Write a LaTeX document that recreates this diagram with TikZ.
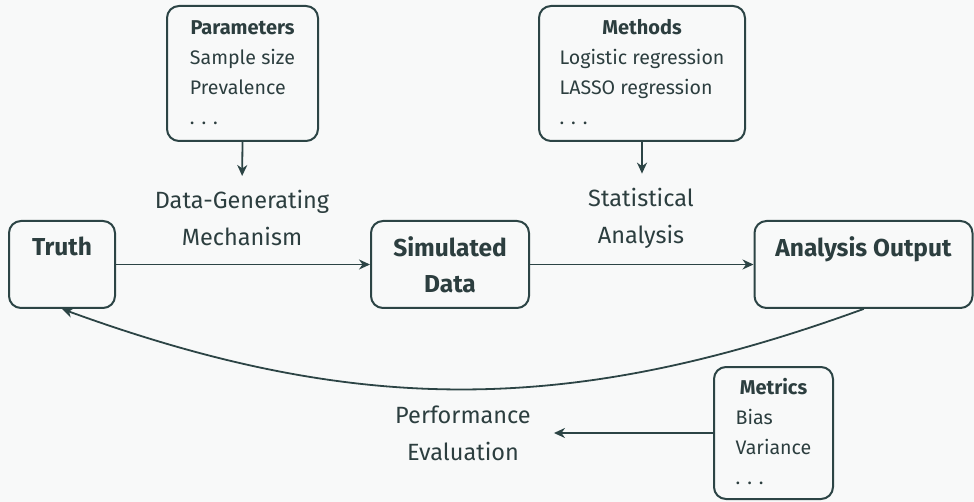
\documentclass[tikz,border=0pt]{standalone}
\usepackage{fontspec}
\setmainfont{Fira Sans}
\usetikzlibrary{arrows.meta}

\definecolor{bgclr}{HTML}{F8F9F9}
\definecolor{lineclr}{HTML}{2C4445}
\definecolor{txtclr}{HTML}{2C3E3F}

\tikzset{
  mainbox/.style={draw=lineclr, line width=2pt, rounded corners=12pt, fill=bgclr,
    align=center, text=txtclr, minimum height=87pt, inner sep=0pt,
    font=\bfseries\fontsize{24.5}{36}\selectfont},
  infobox/.style={draw=lineclr, line width=2pt, rounded corners=12pt, fill=bgclr,
    text=txtclr, inner sep=0pt, font=\fontsize{19.6}{30}\selectfont},
  steplabel/.style={align=center, text=txtclr, inner sep=0pt,
    font=\fontsize{23.5}{37}\selectfont},
  flow/.style={draw=lineclr, line width=1.8pt, -{Stealth[length=11pt,width=10pt,inset=3.5pt]}}
}

\newcommand{\infotab}[2]{\begin{tabular}{@{}l@{}}\multicolumn{1}{@{}c@{}}{\bfseries\fontsize{20}{30}\selectfont #1}\\#2\end{tabular}}

\begin{document}
\begin{tikzpicture}[x=1pt, y=-1pt, line cap=round, line join=round]

  %% ==== canvas ====
  \fill[bgclr] (0,0) rectangle (974,502);

  %% ==== main chain ====
  \node[mainbox, minimum width=106pt] (truth) at (62,264.5) {Truth\\\phantom{Data}};
  \node[mainbox, minimum width=158pt] (simdata) at (450,264.5) {Simulated\\Data};
  \node[mainbox, minimum width=218pt] (output) at (863.5,264.5) {Analysis Output\\\phantom{Data}};

  %% ==== side boxes ====
  \node[infobox, minimum width=151pt, minimum height=135pt] (params) at (242.5,73.5)
    {\infotab{Parameters}{Sample size\\Prevalence\\. . .}};
  \node[infobox, minimum width=206pt, minimum height=135pt] (methods) at (642,73.5)
    {\infotab{Methods}{Logistic regression\\LASSO regression\\. . .}};
  \node[infobox, minimum width=119pt, minimum height=132pt] (metrics) at (773.5,433)
    {\infotab{Metrics}{Bias\\Variance\\. . .}};

  %% ==== step labels ====
  \node[steplabel] (dgm) at (242,218) {Data-Generating\\Mechanism};
  \node[steplabel] (stats) at (641,218) {Statistical\\Analysis};
  \node[steplabel] (perf) at (463,433) {Performance\\Evaluation};

  %% ==== connectors ====
  \draw[flow, shorten >=14pt] (params.south) -- (dgm.north);
  \draw[flow, shorten >=14pt] (methods.south) -- (stats.north -| methods.south);
  \draw[flow] (truth) -- (simdata);
  \draw[flow] (simdata) -- (output);
  \draw[flow] (output.south) to[bend left=20] (truth.south);
  \draw[flow, shorten >=23pt] (metrics.west) -- (perf.east |- metrics.west);

  \pgfresetboundingbox
  \path[use as bounding box] (0,0) rectangle (974,502);
\end{tikzpicture}
\end{document}
